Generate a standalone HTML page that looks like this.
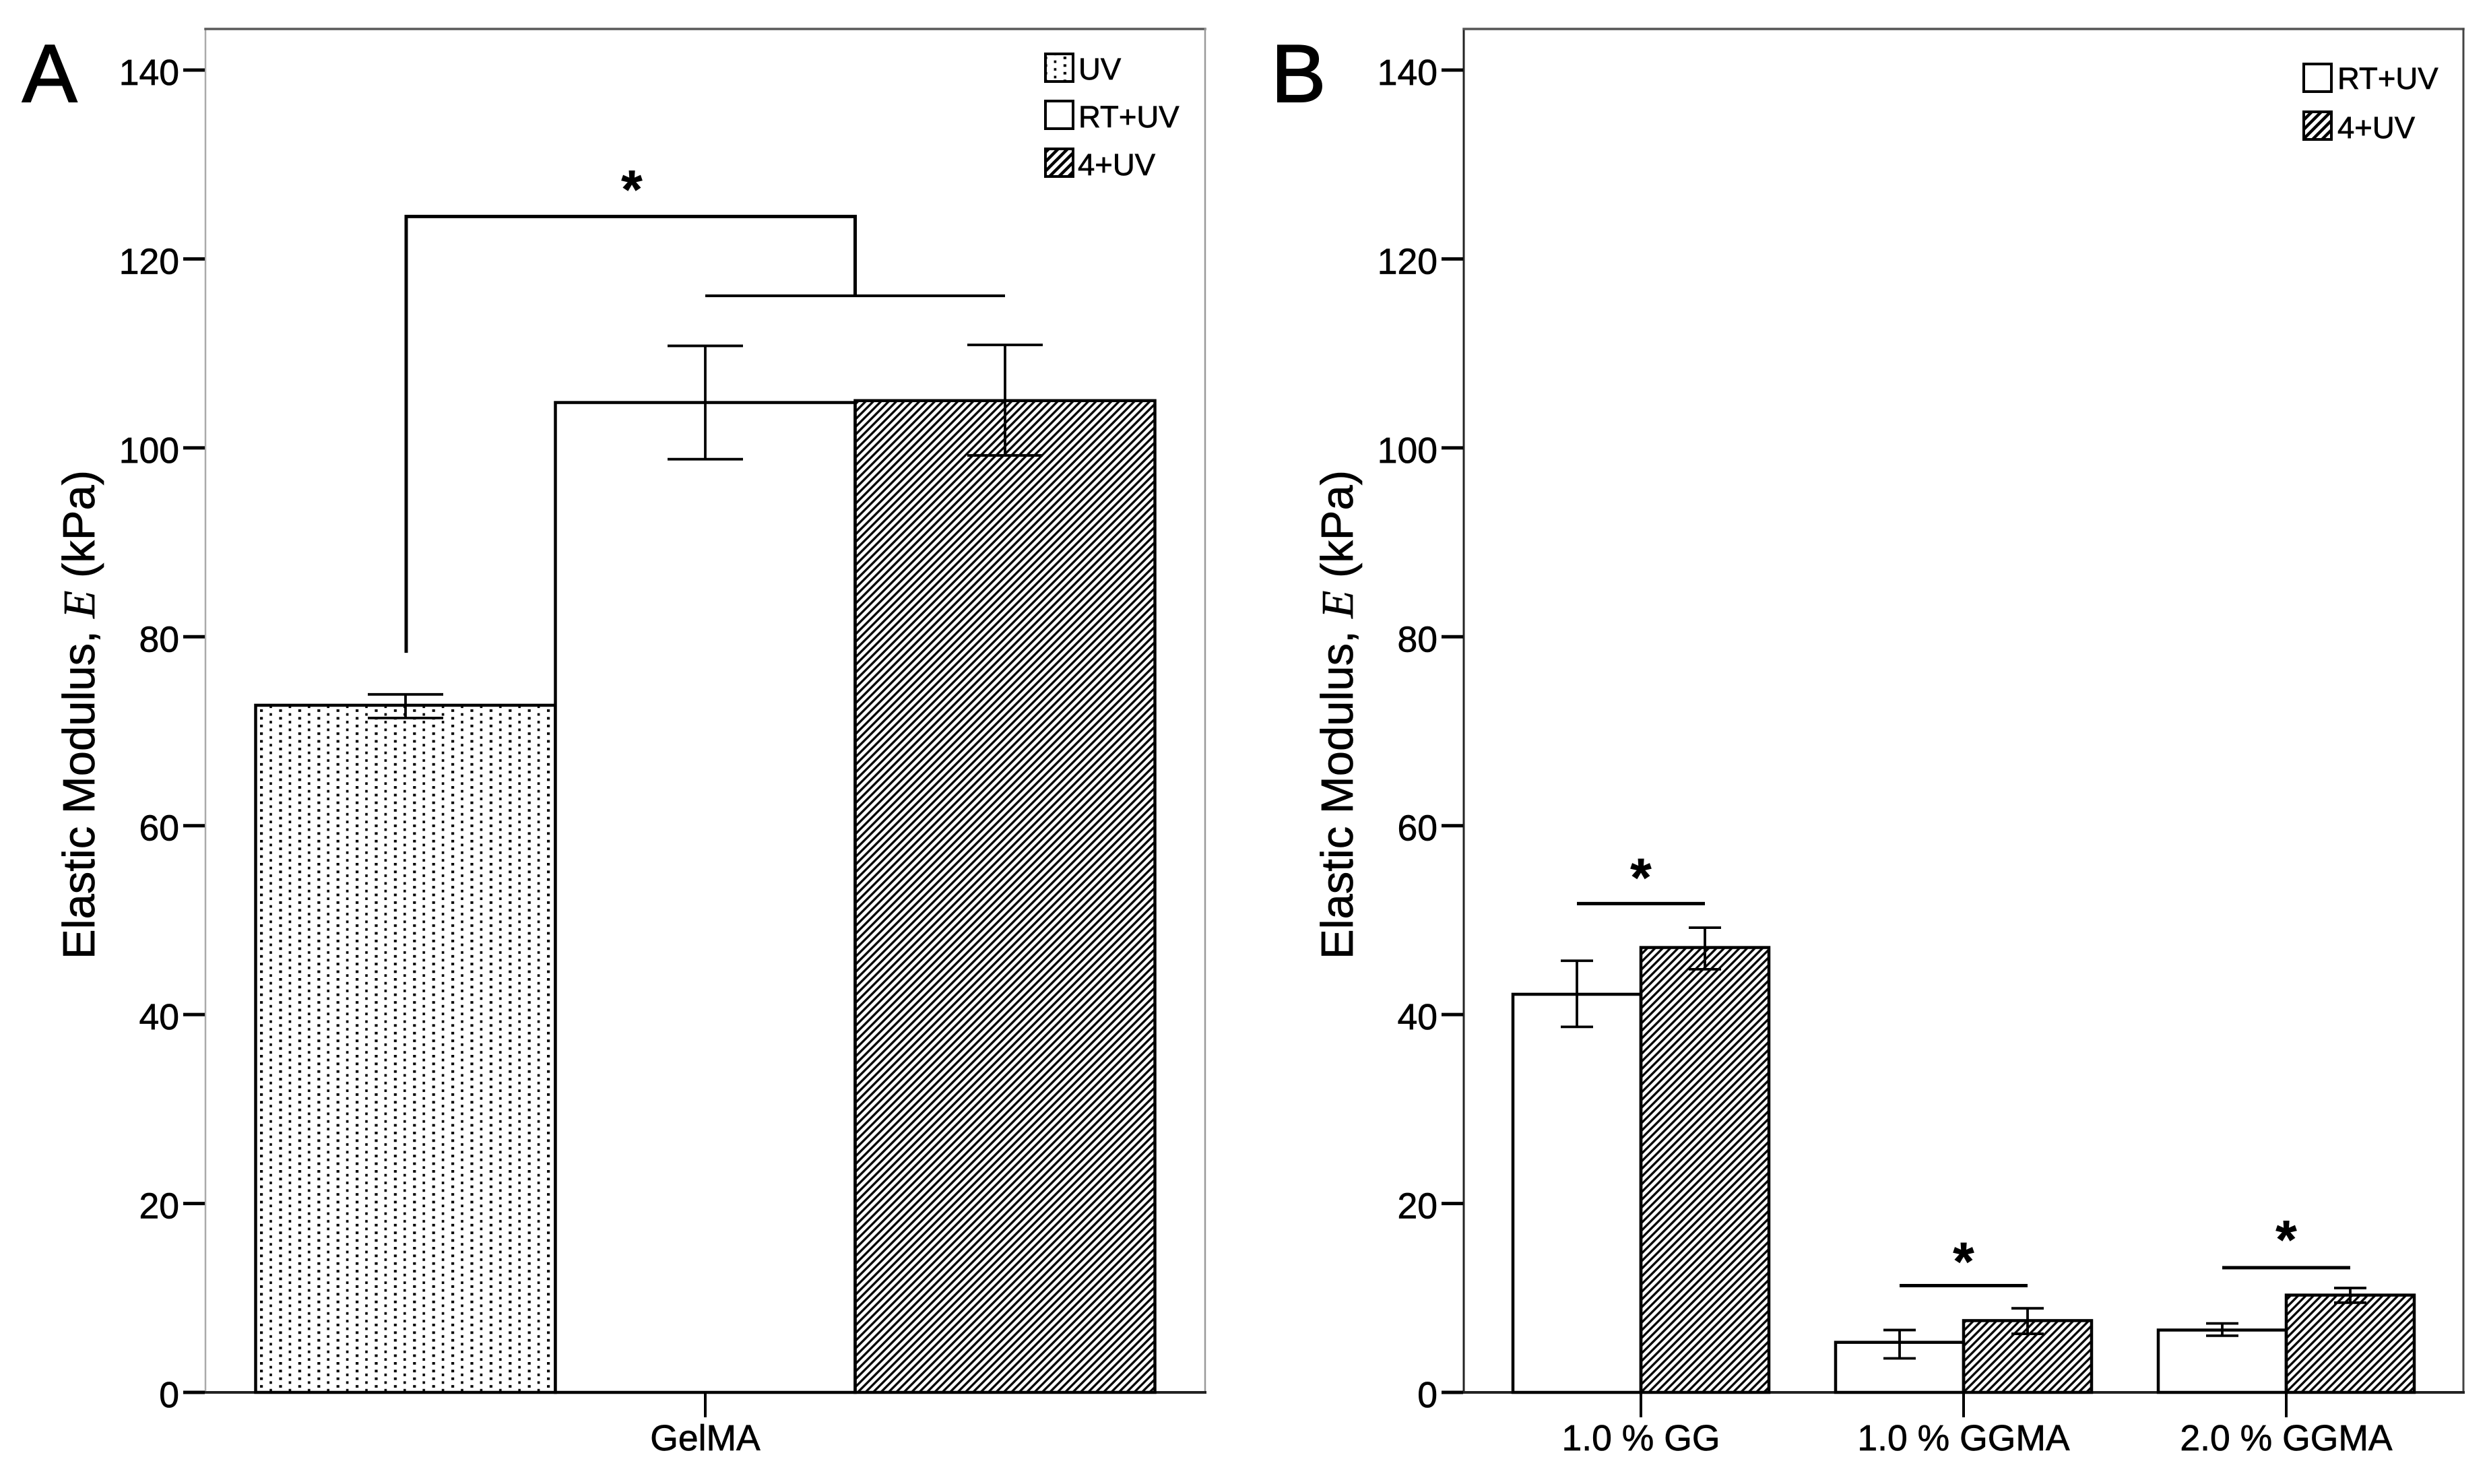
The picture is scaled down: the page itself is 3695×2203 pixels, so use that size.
<!DOCTYPE html>
<html lang="en">
<head>
<meta charset="utf-8">
<title>Elastic Modulus of GelMA and GG/GGMA</title>
<style>
html,body{margin:0;padding:0;background:#fff;}
svg{display:block;}
text{font-family:"Liberation Sans",sans-serif;fill:#000;stroke:#000;stroke-width:0.7px;}
</style>
</head>
<body>
<svg id="figure" xmlns="http://www.w3.org/2000/svg" width="3695" height="2203" viewBox="0 0 3695 2203">
<defs>
<pattern id="dots" patternUnits="userSpaceOnUse" width="28.4" height="11.4" x="386" y="1053">
<rect x="0" y="0" width="4.2" height="3.8" fill="#000"/>
<rect x="14.2" y="5.7" width="3.6" height="3.8" fill="#000"/>
</pattern>
<pattern id="hatch" patternUnits="userSpaceOnUse" width="11.4" height="11.4">
<path d="M-2.85,2.85 L2.85,-2.85 M0,11.4 L11.4,0 M8.55,14.25 L14.25,8.55" stroke="#000" stroke-width="3.3" fill="none"/>
</pattern>
<pattern id="hatch-legend" patternUnits="userSpaceOnUse" width="14" height="14">
<path d="M-3.5,3.5 L3.5,-3.5 M0,14 L14,0 M10.5,17.5 L17.5,10.5" stroke="#000" stroke-width="4.5" fill="none"/>
</pattern>
</defs>
<rect width="3695" height="2203" fill="#fff"/>

<g id="panel-a"></g>
<g id="panel-b"></g>

<text x="33" y="151" font-size="122" style="stroke-width:2px">A</text>
<text x="1887" y="151" font-size="122" style="stroke-width:2px">B</text>

<text transform="translate(140,1061) rotate(-90)" text-anchor="middle" font-size="67">Elastic Modulus, <tspan style="font-family:'Liberation Serif',serif;font-style:italic">E</tspan> (kPa)</text>
<text transform="translate(2008,1061) rotate(-90)" text-anchor="middle" font-size="67">Elastic Modulus, <tspan style="font-family:'Liberation Serif',serif;font-style:italic">E</tspan> (kPa)</text>

<g>
<rect x="1552" y="80" width="41" height="41" fill="url(#dots)" stroke="#000" stroke-width="4"/>
<text x="1601" y="118" font-size="45.5">UV</text>
<rect x="1552" y="150" width="41" height="41" fill="#fff" stroke="#000" stroke-width="4"/>
<text x="1601" y="189" font-size="45.5">RT+UV</text>
<rect x="1552" y="221" width="41" height="41" fill="url(#hatch-legend)" stroke="#000" stroke-width="4"/>
<text x="1600" y="260" font-size="45.5">4+UV</text>
</g>
<g>
<rect x="3420" y="95" width="41" height="41" fill="#fff" stroke="#000" stroke-width="4"/>
<text x="3470" y="132" font-size="45.5">RT+UV</text>
<rect x="3420" y="166" width="41" height="41" fill="url(#hatch-legend)" stroke="#000" stroke-width="4"/>
<text x="3470" y="205" font-size="45.5">4+UV</text>
</g>
</svg>

<script>
// ---- chart data (values in kPa) ----
const yTickValues = [0, 20, 40, 60, 80, 100, 120, 140];
const yTickLabels = ['0', '20', '40', '60', '80', '100', '120', '140'];

const panelACategories = ['GelMA'];
const panelASeries = ['UV', 'RT+UV', '4+UV'];
const panelAMeans = [72.75, 104.8, 105.0];
const panelAUpper = [73.9, 110.8, 110.9];
const panelALower = [71.4, 98.8, 99.2];

const panelBCategories = ['1.0 % GG', '1.0 % GGMA', '2.0 % GGMA'];
const panelBSeries = ['RT+UV', '4+UV'];
const rtMeans = [42.15, 5.3, 6.6];
const rtUpper = [45.7, 6.6, 7.3];
const rtLower = [38.7, 3.6, 6.0];
const coldMeans = [47.1, 7.6, 10.3];
const coldUpper = [49.2, 8.9, 11.05];
const coldLower = [44.8, 6.2, 9.5];

// significance markers (in kPa)
const panelABracketTop = [124.5];
const panelABracketLow = [116.1];
const panelABracketStart = [78.3];
const panelAStarValue = [128.55];
const panelBSigLines = [51.75, 11.3, 13.2];
const panelBStarValues = [55.7, 15.05, 17.35];

// ---- axis functions ----
const Y0 = 2067, YTOP = 104, YMAX = 140;
function y(v) { return Y0 - v * (Y0 - YTOP) / YMAX; }

const A = { left: 305, right: 1789, top: 43, bandW: 1335, barW: 445 };
const B = { left: 2173, right: 3657, top: 43, bandW: 479, barW: 190 };
function catCenter(p, i, n) { return (p.left + p.right) / 2 + (i - (n - 1) / 2) * p.bandW; }
function barLeft(p, c, s, ns) { return c + (s - ns / 2) * p.barW; }
function patternFor(name) {
  if (name === 'UV') return 'url(#dots)';
  if (name === '4+UV') return 'url(#hatch)';
  return '#fff';
}

const NS = 'http://www.w3.org/2000/svg';
function mk(tag, parent, attrs) {
  const e = document.createElementNS(NS, tag);
  for (const k in attrs) e.setAttribute(k, attrs[k]);
  parent.appendChild(e);
  return e;
}
function seg(parent, x1, y1, x2, y2, color, w) {
  return mk('line', parent, { x1: x1, y1: y1, x2: x2, y2: y2, stroke: color, 'stroke-width': w, 'stroke-linecap': 'square' });
}

function drawFrame(parent, p, leftCol, topCol, rightCol, leftW) {
  let el;
  el = seg(parent, p.left, p.top, p.left, Y0, leftCol, leftW);
  
  
  el = seg(parent, p.left, p.top, p.right, p.top, topCol, 3.5);
  
  
  el = seg(parent, p.right, p.top, p.right, Y0, rightCol, leftW);
  
  
  el = seg(parent, p.left, Y0, p.right, Y0, '#222', 4);
  
  
}

function drawYAxis(parent, p) {
  yTickValues.forEach(function (v, i) {
    const t = seg(parent, p.left - 33, y(v), p.left - 1, y(v), '#000', 5);
    t.style.strokeLinecap = 'butt';
    
    
    const l = mk('text', parent, { x: p.left - 39, y: y(v) + 22, 'text-anchor': 'end', 'font-size': 53.5 });
    l.textContent = yTickLabels[i];
    
    
  });
}

function drawXAxis(parent, p, cats) {
  cats.forEach(function (c, i) {
    const cx = catCenter(p, i, cats.length);
    const t = seg(parent, cx, Y0, cx, 2104, '#000', 4);
    t.style.strokeLinecap = 'butt';
    
    
    const l = mk('text', parent, { x: cx, y: 2153, 'text-anchor': 'middle', 'font-size': 53.5 });
    l.textContent = c;
    
    
  });
}

function drawBar(parent, p, x0, name, val) {
  const r = mk('rect', parent, { x: x0, y: y(val), width: p.barW, height: Y0 - y(val), fill: patternFor(name), stroke: '#000', 'stroke-width': 4.5 });
  
  
}

function drawErr(parent, cx, hi, lo, half) {
  const g = mk('g', parent, {});
  
  
  seg(g, cx, y(hi), cx, y(lo), '#000', 3.8).style.strokeLinecap = 'butt';
  seg(g, cx - half, y(hi), cx + half, y(hi), '#000', 3.8).style.strokeLinecap = 'butt';
  seg(g, cx - half, y(lo), cx + half, y(lo), '#000', 3.8).style.strokeLinecap = 'butt';
}

function drawStar(parent, cx, v) {
  const s = mk('text', parent, { x: cx, y: y(v) + 44, 'text-anchor': 'middle', 'font-size': 80, 'font-weight': 'bold' });
  s.textContent = '*';
  
  
}

// ---- Panel A ----
const gA = document.getElementById('panel-a');
drawFrame(gA, A, '#aaa', '#5a5a5a', '#999', 2.5);
drawYAxis(gA, A);
const cA = catCenter(A, 0, panelACategories.length);
panelASeries.forEach(function (name, s) {
  drawBar(gA, A, barLeft(A, cA, s, panelASeries.length), name, panelAMeans[s]);
});
drawXAxis(gA, A, panelACategories);
panelASeries.forEach(function (name, s) {
  const x0 = barLeft(A, cA, s, panelASeries.length);
  drawErr(gA, x0 + A.barW / 2, panelAUpper[s], panelALower[s], 56);
});
const x1A = barLeft(A, cA, 0, 3) + A.barW / 2 + 1;
const x2A = barLeft(A, cA, 2, 3);
const bracketA = mk('path', gA, { d: 'M' + x1A + ' ' + y(panelABracketStart[0]) + ' V' + y(panelABracketTop[0]) + ' H' + x2A + ' V' + y(panelABracketLow[0]), fill: 'none', stroke: '#000', 'stroke-width': 5 });


const lowA = seg(gA, barLeft(A, cA, 1, 3) + A.barW / 2, y(panelABracketLow[0]), barLeft(A, cA, 2, 3) + A.barW / 2, y(panelABracketLow[0]), '#000', 4);
lowA.style.strokeLinecap = 'butt';


drawStar(gA, x1A + 335, panelAStarValue[0]);

// ---- Panel B ----
const gB = document.getElementById('panel-b');
drawFrame(gB, B, '#222', '#555', '#444', 3);
drawYAxis(gB, B);
panelBCategories.forEach(function (cat, i) {
  const c = catCenter(B, i, panelBCategories.length);
  drawBar(gB, B, barLeft(B, c, 0, 2), panelBSeries[0], rtMeans[i]);
  drawBar(gB, B, barLeft(B, c, 1, 2), panelBSeries[1], coldMeans[i]);
});
drawXAxis(gB, B, panelBCategories);
panelBCategories.forEach(function (cat, i) {
  const c = catCenter(B, i, panelBCategories.length);
  const xa = barLeft(B, c, 0, 2) + B.barW / 2;
  const xb = barLeft(B, c, 1, 2) + B.barW / 2;
  drawErr(gB, xa, rtUpper[i], rtLower[i], 24);
  drawErr(gB, xb, coldUpper[i], coldLower[i], 24);
  const ln = seg(gB, xa, y(panelBSigLines[i]), xb, y(panelBSigLines[i]), '#000', 5);
  ln.style.strokeLinecap = 'butt';
  
  
  drawStar(gB, c, panelBStarValues[i]);
});
</script>
</body>
</html>
